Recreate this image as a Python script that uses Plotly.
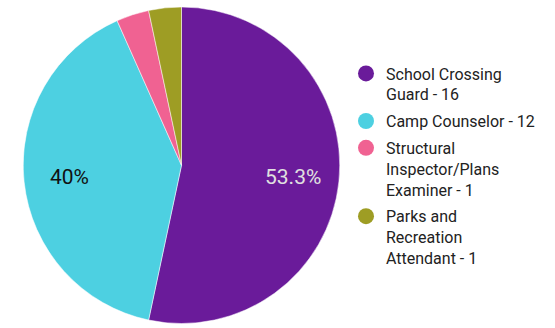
import math
import textwrap
import plotly.graph_objects as go

labels = ["School Crossing Guard", "Camp Counselor", "Structural Inspector/Plans Examiner", "Parks and Recreation Attendant"]
values = [16, 12, 1, 1]
colors = ["#6a1b9a", "#4dd0e1", "#f06292", "#9e9d24"]
text_colors = ["#e0e0e0", "#111111", "#111111", "#111111"]

W, H = 555, 328
dom_x = [23 / W, 340 / W]
dom_y = [4.5 / H, 321 / H]

total = sum(values)
legend_names = ["<br>".join(textwrap.wrap(f"{l} - {v}", 19)) for l, v in zip(labels, values)]

fig = go.Figure()
fig.add_trace(go.Pie(
    labels=labels, values=values, textinfo="none",
    sort=False, direction="clockwise", rotation=0,
    marker=dict(colors=colors, line=dict(color="#ffffff", width=0.5)),
    showlegend=False, hoverinfo="label+value+percent",
    domain=dict(x=dom_x, y=dom_y),
))
for i, (name, c) in enumerate(zip(legend_names, colors)):
    fig.add_trace(go.Scatter(x=[None], y=[None], mode="markers", name=name,
                             legendgroup=f"g{i}",
                             marker=dict(color=c, size=16, symbol="circle")))

# percentage labels placed at mid-angle of each slice
cx = (dom_x[0] + dom_x[1]) / 2
cy = (dom_y[0] + dom_y[1]) / 2
r_px = min((dom_x[1] - dom_x[0]) * W, (dom_y[1] - dom_y[0]) * H) / 2
cum = 0
for v, tc in zip(values, text_colors):
    p = v / total * 100
    mid = (cum + v / 2) / total * 2 * math.pi
    cum += v
    if p < 5:
        continue
    s = f"{p:.1f}".rstrip("0").rstrip(".") + "%"
    rr = 0.71 * r_px
    fig.add_annotation(x=cx + rr * math.sin(mid) / W, y=cy + rr * math.cos(mid) / H,
                       xref="paper", yref="paper", text=s, showarrow=False,
                       xanchor="center", yanchor="middle",
                       font=dict(family="Roboto", size=21, color=tc))

fig.update_layout(
    width=W, height=H, margin=dict(l=0, r=0, t=0, b=0),
    paper_bgcolor="white", plot_bgcolor="white",
    xaxis=dict(visible=False), yaxis=dict(visible=False),
    font=dict(family="Roboto", size=16, color="#222222"),
    legend=dict(x=346 / W, y=0.5 - 2 / H, xanchor="left", yanchor="middle", valign="top",
                tracegroupgap=3, itemsizing="trace",
                font=dict(family="Roboto", size=16, color="#222222")),
)
fig.write_html("out.html")
